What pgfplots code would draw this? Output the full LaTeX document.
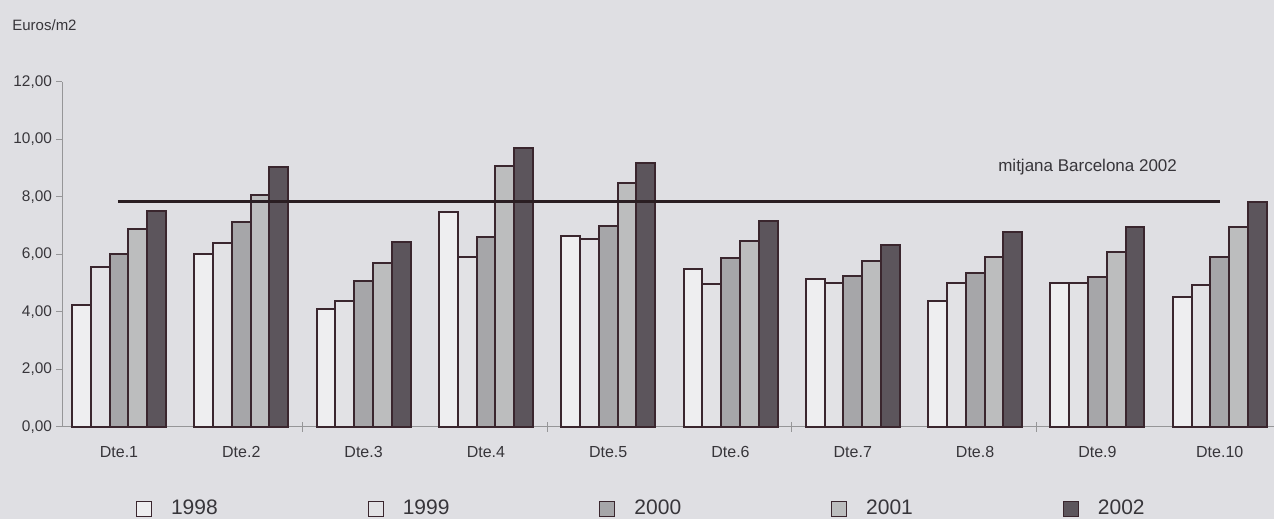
\documentclass[border=0pt]{standalone}
\usepackage{pgfplots}
\usepackage{pgfplotstable}
\pgfplotsset{compat=1.18}
\usepackage{fontspec}
\setmainfont{Liberation Sans}

\definecolor{bg}{RGB}{223,223,227}
\definecolor{cA}{RGB}{238,238,240}
\definecolor{cB}{RGB}{226,226,229}
\definecolor{cC}{RGB}{166,166,169}
\definecolor{cD}{RGB}{188,189,190}
\definecolor{cE}{RGB}{92,85,92}
\definecolor{edge}{RGB}{58,38,46}
\definecolor{avgline}{RGB}{42,30,34}
\definecolor{axisgray}{RGB}{150,150,152}
\definecolor{txt}{RGB}{55,53,58}

\pgfplotstableread{
x  y98  y99  y00  y01  y02
1  4.25 5.56 6.00 6.87 7.50
2  6.00 6.40 7.12 8.08 9.06
3  4.10 4.37 5.07 5.70 6.42
4  7.49 5.92 6.62 9.08 9.69
5  6.64 6.53 6.99 8.48 9.19
6  5.50 4.97 5.87 6.47 7.17
7  5.16 5.00 5.25 5.78 6.33
8  4.39 5.02 5.37 5.90 6.77
9  5.02 5.02 5.23 6.09 6.95
10 4.51 4.93 5.92 6.95 7.84
}\datatable

\begin{document}
\begin{tikzpicture}
\fill[bg] (0,0) rectangle (637pt,259.5pt);
\useasboundingbox (0,0) rectangle (637pt,259.5pt);
\begin{axis}[
  at={(31pt,46pt)}, anchor=south west,
  scale only axis, width=606pt, height=172.5pt,
  xmin=0.534, xmax=10.444, ymin=0, ymax=12,
  axis lines*=left,
  axis line style={draw=axisgray, line width=0.5pt},
  clip=false,
  xtick={1,...,10},
  xticklabels={Dte.1,Dte.2,Dte.3,Dte.4,Dte.5,Dte.6,Dte.7,Dte.8,Dte.9,Dte.10},
  xtick style={draw=none},
  extra x ticks={2.5,4.5,6.5,8.5},
  extra x tick labels={},
  extra x tick style={xtick style={draw=axisgray, line width=0.4pt}, major tick length=5pt, xtick align=center},
  ytick={0,2,...,12},
  ytick align=outside,
  major tick length=3pt,
  ytick style={draw=axisgray, line width=0.5pt},
  yticklabel style={font=\fontsize{7.7}{9}\selectfont, text=txt, xshift=1.5pt,
    /pgf/number format/.cd, fixed, fixed zerofill, precision=2, use comma, assume math mode=true},
  xticklabel style={font=\fontsize{8}{9.6}\selectfont, text=txt, yshift=-6pt},
  legend columns=5,
  legend style={draw=none, fill=none, inner sep=0pt, outer sep=0pt,
    at={(axis description cs:0.0611,-0.2377)}, anchor=west,
    font=\fontsize{10.5}{12}\selectfont, text=txt,
    nodes={inner sep=0pt},
    /tikz/every odd column/.append style={column sep=9.5pt},
    /tikz/every even column/.append style={column sep=75pt}},
  legend image code/.code={\draw[#1, line width=0.5pt] (0pt,-3.75pt) rectangle (7.5pt,3.75pt);},
  every axis plot/.append style={draw=edge, line width=1pt},
]
\addplot[ybar, bar width=9.4pt, bar shift=-18.8pt, fill=cA] table[x=x, y=y98] {\datatable};
\addplot[ybar, bar width=9.4pt, bar shift=-9.4pt, fill=cB] table[x=x, y=y99] {\datatable};
\addplot[ybar, bar width=9.4pt, bar shift=0pt, fill=cC] table[x=x, y=y00] {\datatable};
\addplot[ybar, bar width=9.4pt, bar shift=9.4pt, fill=cD] table[x=x, y=y01] {\datatable};
\addplot[ybar, bar width=9.4pt, bar shift=18.8pt, fill=cE] table[x=x, y=y02] {\datatable};
\legend{1998,1999,2000,2001,2002}
\addplot[sharp plot, forget plot, draw=avgline, line width=1.6pt] coordinates {(0.99,7.83) (10.0,7.83)};
\node[font=\fontsize{8.5}{10}\selectfont, text=txt] at (axis cs:8.92,9.04) {mitjana Barcelona 2002};
\end{axis}
\node[anchor=west, font=\fontsize{7.5}{9}\selectfont, text=txt, inner sep=0pt] at (6pt,247pt) {Euros/m2};
\end{tikzpicture}
\end{document}
